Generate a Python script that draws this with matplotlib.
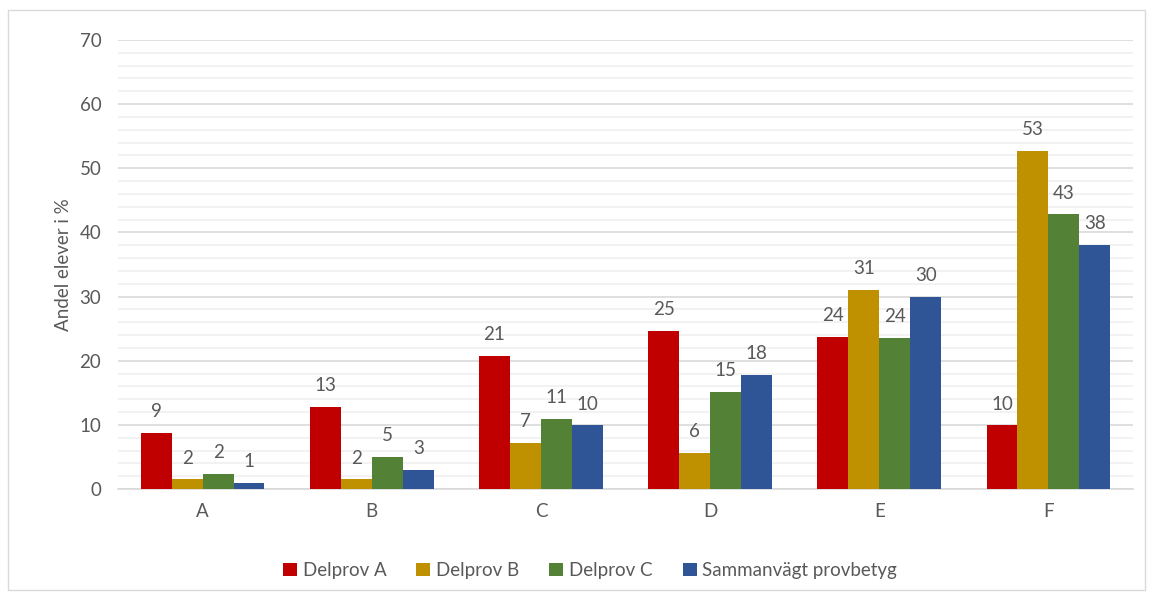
import numpy as np
import matplotlib.pyplot as plt
from matplotlib.patches import Rectangle

plt.rcParams['font.family'] = ['Lato', 'DejaVu Sans']

categories = ['A', 'B', 'C', 'D', 'E', 'F']
series_names = ['Delprov A', 'Delprov B', 'Delprov C', 'Sammanvägt provbetyg']
delprov_a = [8.7, 12.8, 20.8, 24.6, 23.7, 9.9]
delprov_b = [1.5, 1.5, 7.2, 5.6, 31.1, 52.7]
delprov_c = [2.3, 5.0, 10.9, 15.1, 23.5, 42.8]
sammanvagt = [0.9, 3.0, 9.9, 17.8, 30.0, 38.0]
colors = ['#C00000', '#BF9000', '#538135', '#2F5597']

values = [delprov_a, delprov_b, delprov_c, sammanvagt]
text_color = '#595959'
fs = 13.5

fig = plt.figure(figsize=(11.51, 5.96), dpi=100)
ax = fig.add_axes([118 / 1151, 1 - 489 / 596, (1133 - 118) / 1151, (489 - 40) / 596])

x = np.arange(len(categories))
w = 0.183
for i, (vals, name, c) in enumerate(zip(values, series_names, colors)):
    pos = x + (i - 1.5) * w
    ax.bar(pos, vals, width=w, color=c, label=name, zorder=3)
    for px, v in zip(pos, vals):
        ax.text(px, v + 2.0, f'{round(v + 1e-9):.0f}', ha='center', va='bottom',
                fontsize=fs, color=text_color, zorder=4)

ax.set_xlim(-0.5, len(categories) - 0.5)
ax.set_ylim(0, 70)
ax.set_yticks(np.arange(0, 71, 10))
ax.set_yticks(np.arange(0, 71, 2), minor=True)
ax.grid(axis='y', which='major', color='#d9d9d9', linewidth=1.2, zorder=0)
ax.grid(axis='y', which='minor', color='#f0f0f0', linewidth=1.2, zorder=0)
ax.set_xticks(x)
ax.set_xticklabels(categories)
ax.tick_params(axis='both', which='both', length=0, labelsize=fs, colors=text_color)
ax.tick_params(axis='x', pad=10)
ax.tick_params(axis='y', pad=12)
for s in ['top', 'right', 'left']:
    ax.spines[s].set_visible(False)
ax.spines['bottom'].set_color('#d9d9d9')
ax.spines['bottom'].set_linewidth(1.2)
ax.set_ylabel('Andel elever i %', fontsize=fs, color=text_color)
ax.yaxis.set_label_coords(-46 / 1015, 0.5)

ax.legend(loc='upper center', bbox_to_anchor=(0.465, -0.125), ncol=4, frameon=False,
          fontsize=fs, labelcolor=text_color, handlelength=0.75, handleheight=0.75,
          handletextpad=0.3, columnspacing=1.6)

fig.patches.append(Rectangle((8 / 1151, 6 / 596), 1137 / 1151, 580 / 596,
                             transform=fig.transFigure, fill=False,
                             edgecolor='#d9d9d9', linewidth=1))

fig.savefig('out.png', dpi=100)
